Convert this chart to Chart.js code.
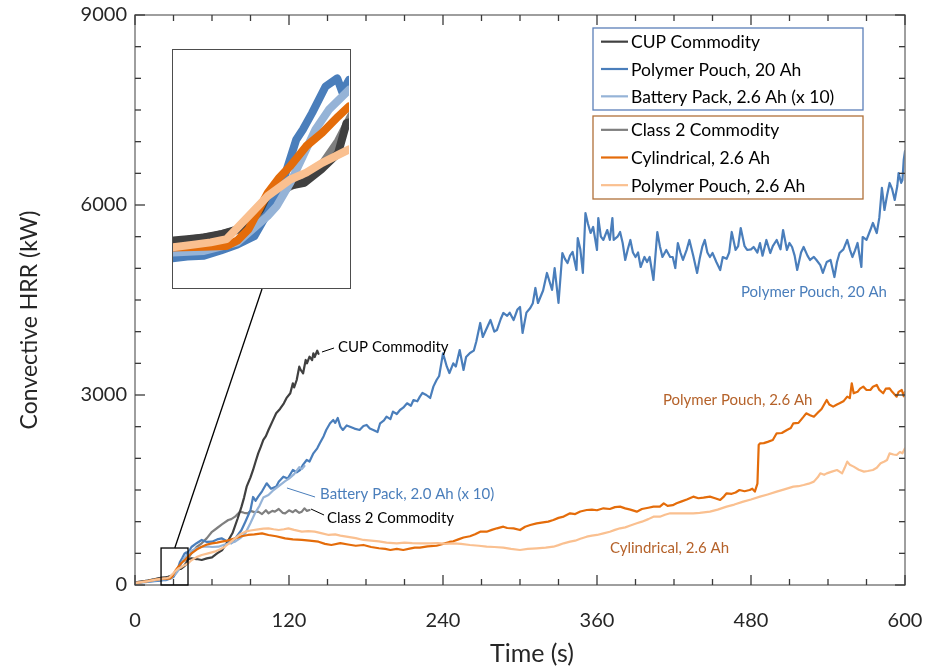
<!DOCTYPE html>
<html>
<head>
<meta charset="utf-8">
<script src="https://cdn.jsdelivr.net/npm/chart.js@4.4.1/dist/chart.umd.min.js"></script>
<style>
  html, body { margin: 0; padding: 0; background: #fff; }
  #wrap { position: relative; width: 925px; height: 671px; }
  #inset { position: absolute; left: 172px; top: 49px; width: 179px; height: 240px;
           box-sizing: border-box; border: 1.5px solid #4d4d4d; background: #fff; }
  #inset canvas { display: block; }
</style>
</head>
<body>
<div id="wrap">
  <canvas id="main" width="925" height="671"></canvas>
  <div id="inset"><canvas id="zoom" width="176" height="237"></canvas></div>
</div>
<script>
// series values (time in s, convective HRR in kW)
const cupT = [0,5,10,15,20,22,24,26,28,30,32,34,36,38,40,41,44,48,52,56,60,64,68,72,76,80,83,85,87,90,92,94,96,98,100,102,104,107,110,113,116,118,121,123,124,126,128,129,131,133,134,136,138,139,140,142,143];
const cupV = [40,55,70,90,114,118,122,130,142,175,215,249,257,290,330,404,420,410,395,420,437,500,553,680,820,1050,1237,1380,1553,1700,1816,1950,2079,2180,2290,2350,2447,2580,2711,2780,2869,2950,3027,3185,3120,3237,3447,3400,3343,3553,3500,3605,3550,3658,3600,3700,3650];

const pp20T = [0,5,10,15,20,22,24,26,28,30,31.6,33.5,35,35.8,36.9,38.5,39.9,40.5,41.3,44,48,52,56,60,64,67.5,71,75,79,83,86,90,92,94,96,99,102.6,106,110,112,115.6,119,123,126,128.6,131,133.8,136,139,142,144,147,149,152,154.5,156,158,160,162,165,167.5,171,175,178,180.5,183,185.7,189,191,194,196,199,201,204,206.5,209,212,215,217,220,222,224,227,230,232.5,235,237,240,243,245,248,250,253,256,258,261,264,266,269,271,274,277,280,282,285,287,290,292,295,298,300,302,305,308,310,312,314,318,321,325,327,330,333,335,337,339,341,344,345,347,349,351,353,355,357,360,361,363,365,368,370,372,373,376,378,380,382,384,386,388,390,392,394,397,399,401,404,407,409,411,414,417,419,421,423,425,427,430,432,435,438,440,442,444,446,448,450,453,456,458,461,463,465,468,470,472,475,477,480,482,485,487,489,492,495,497,500,503,505,508,510,512,514,516,519,521,524,526,529,531,534,536,539,542,545,547,549,552,555,557,559,561,563,566,567,570,573,575,578,580,582,584,586,588,590,592,594,595,597,598,599,600];
const pp20V = [30,40,50,60,70,75,77,90,105,125,183,265,363,388,429,494,514,480,510,600,660,711,680,684,720,737,700,658,760,868,1000,1184,1390,1330,1395,1480,1606,1520,1553,1632,1711,1680,1816,1780,1816,1900,1974,1950,2079,2158,2237,2350,2448,2553,2605,2560,2637,2500,2448,2520,2500,2470,2448,2510,2527,2470,2448,2416,2553,2600,2658,2620,2737,2700,2763,2800,2869,2830,2921,2900,2974,3032,3000,2953,3132,3237,3300,3658,3447,3347,3500,3450,3710,3395,3600,3663,3700,3850,4137,3916,4050,4184,4000,4026,4200,4295,4250,4300,4184,4350,4390,3979,4300,4374,4450,4690,4453,4650,4927,4658,5005,4453,5242,5150,5084,5200,5258,4974,5479,5300,4927,5874,5700,5558,5653,5290,5795,5500,5448,5605,5450,5795,5448,5500,5574,5400,5132,5300,5448,5250,5179,5250,5021,5179,5100,5179,4816,5574,5350,5179,5290,5179,5179,5005,5400,5250,5132,5300,5448,5200,4927,5150,5337,5448,5250,5179,5242,5100,4974,5179,5150,5250,5574,5290,5350,5637,5350,5290,5300,5337,5250,5400,5200,5448,5242,5350,5448,5300,5605,5290,5400,5337,5200,4974,5250,5337,5200,5132,5180,5132,5050,4927,5100,5132,4863,5100,5242,5300,5448,5300,5179,5280,5400,5021,5495,5450,5605,5716,5558,5800,6269,5921,6150,6348,6250,6079,6300,6505,6350,6395,6711,6850];

const packT = [0,5,10,15,20,24,28,31.6,32.7,34.3,35.8,37.3,38.9,41.3,44,48,52,56,60,65,70,74,78,82,86,90,93.5,97,100,104,108,112,117,120,124,128,130,132];
const packV = [35,45,55,70,85,89,110,175,200,257,322,388,437,486,540,580,600,610,600,605,640,660,684,740,816,980,1132,1250,1380,1420,1500,1560,1640,1680,1750,1860,1830,1880];

const cls2T = [0,5,10,15,20,25,28,30,32,34,36,38,40,42,45,48,52,56,60,64,68,72.7,75,78,80,82,85,88,90,93,96,99,102,104,107,109,112,115,117,120,123,125,128,130,132,134,136];
const cls2V = [40,55,70,90,110,125,140,170,205,245,265,300,360,440,530,600,658,740,840,900,960,1026,1040,1079,1120,1158,1140,1132,1170,1150,1158,1120,1180,1132,1170,1158,1200,1140,1132,1180,1150,1184,1140,1158,1211,1170,1184];

const cylT = [0,5,10,15,20,24,26.7,28,29.3,31.6,33,34.3,36.2,38.1,40,41.3,44,48,52,56,60,64,67.5,72,78,83,88,93,99,104,110,117,123,130,136,143,148,153,160,166,172,178,184,190,195,199,204,209,214,218,222,228,235,240,245,248,252,256,261,265,269,274,278,282,287,290,295,300,304,308,313,318,322,326,330,334,339,343,347,352,356,360,365,370,374,378,382,386,391,395,400,404,409,412,415,419,422,426,430,435,439,443,448,452,456,459,461,465,468,471,475,479,481,483,485,486,487,490,493,497,500,504,508,511,513,517,521,523,526,529,532,535,539,541,544,547,549,552,555,557,558.5,560,563,565,567.5,570,573,575,578,580,583,585,588,590,593.5,595,597.5,599,600];
const cylV = [30,45,60,80,97,99,101,115,142,232,270,298,347,380,420,445,500,560,605,640,658,670,684,700,737,770,790,800,816,790,770,737,720,711,700,684,650,632,660,640,620,632,600,580,570,553,570,553,575,590,590,610,620,650,680,690,720,750,770,800,842,842,870,895,921,900,895,868,920,947,974,990,1000,1026,1060,1080,1132,1120,1160,1184,1190,1180,1211,1200,1230,1237,1210,1190,1158,1200,1220,1237,1237,1290,1250,1260,1290,1320,1350,1395,1370,1380,1395,1370,1342,1400,1448,1440,1460,1500,1480,1500,1520,1474,1600,2211,2237,2240,2260,2290,2395,2400,2448,2480,2553,2560,2658,2711,2680,2658,2720,2780,2921,2850,2816,2850,2869,2900,2974,2950,3185,3027,3050,3100,3132,3080,3079,3130,3158,3080,3027,3100,3106,3050,2974,3050,3079,2980,3050];

const pp26T = [0,5,10,15,20,23,24.8,26.7,29.7,31.6,34.3,36.2,38.1,41.3,44,48,52,57,62,66,70,74,78,82,86,90,96,100,104,108,112,116,119.5,124,130,135,140,145,151,156,160,166,172,178,184,190,196,204,210,216,222,230,236,242,248,254,261,268,274,280,287,293,300,306,313,320,326,330,334,339,343,347,352,356,360,365,370,374,378,382,386,391,395,400,404,409,413,417,422,428,435,440,448,454,461,467,474,480,487,493,500,506,513,517,521,525,529,532,534,537,539,543,547,549,551,553,555,557,560,564,568,571,575,578,581,584,586,588,591,593.5,596,598,600];
const pp26V = [30,45,60,80,97,105,110,118,183,224,265,282,306,339,390,440,474,500,526,560,605,670,737,800,842,860,879,890,895,880,868,880,895,870,842,850,842,820,790,800,780,760,740,711,700,690,670,658,670,660,658,658,660,650,658,650,632,620,605,600,590,570,553,570,579,590,605,630,658,684,700,730,763,780,790,816,840,870,895,910,940,974,1000,1040,1079,1079,1110,1132,1132,1130,1132,1140,1158,1190,1237,1270,1316,1350,1395,1430,1474,1510,1553,1560,1579,1600,1632,1700,1763,1740,1763,1790,1816,1790,1763,1850,1948,1900,1869,1820,1790,1800,1816,1850,1921,1950,1974,2079,2060,2053,2100,2080,2158];

const seriesNames = ['CUP Commodity', 'Polymer Pouch, 20 Ah', 'Battery Pack, 2.6 Ah (x 10)',
                     'Class 2 Commodity', 'Cylindrical, 2.6 Ah', 'Polymer Pouch, 2.6 Ah'];
const seriesTimes = [cupT, pp20T, packT, cls2T, cylT, pp26T];
const seriesValues = [cupV, pp20V, packV, cls2V, cylV, pp26V];
const seriesColors = ['#404040', '#4a7ebb', '#95b3d7', '#7f7f7f', '#e46c0a', '#fac090'];

const xTicks = [0, 120, 240, 360, 480, 600];
const yTicks = [0, 3000, 6000, 9000];
// region blown up in the inset
const zoomT = [20.3, 41.3];
const zoomV = [0, 584];

const annotations = [
  { text: 'CUP Commodity', t: 158.2, v: 3758, color: '#000', lead: [145.7, 3679, 155.1, 3742], leadColor: '#000' },
  { text: 'Battery Pack, 2.0 Ah (x 10)', t: 144.2, v: 1437, color: '#4a7ebb', lead: [118.4, 1532, 140.3, 1389], leadColor: '#4a7ebb' },
  { text: 'Class 2 Commodity', t: 149.6, v: 1058, color: '#000', lead: [137.1, 1200, 147.3, 1105], leadColor: '#000' },
  { text: 'Polymer Pouch, 20 Ah', t: 472.2, v: 4626, color: '#4a7ebb' },
  { text: 'Polymer Pouch, 2.6 Ah', t: 411.4, v: 2921, color: '#b5622a' },
  { text: 'Cylindrical, 2.6 Ah', t: 370.1, v: 584, color: '#b5622a' }
];

const FONT = 'Lato, "Liberation Sans", sans-serif';

function toPoints(ts, vs) {
  return ts.map((t, i) => ({ x: t, y: vs[i] }));
}

function makeDatasets(width) {
  // lower order is drawn on top
  return seriesNames.map((name, i) => ({
    label: name,
    data: toPoints(seriesTimes[i], seriesValues[i]),
    borderColor: seriesColors[i],
    borderWidth: width,
    pointRadius: 0,
    tension: 0,
    fill: false,
    borderCapStyle: 'round',
    borderJoinStyle: 'round',
    order: [5, 4, 3, 6, 2, 1][i]
  }));
}

function seg(ctx, x1, y1, x2, y2) {
  ctx.beginPath();
  ctx.moveTo(x1, y1);
  ctx.lineTo(x2, y2);
  ctx.stroke();
}

const decorations = {
  id: 'decorations',
  afterDatasetsDraw(chart) {
    const { ctx, chartArea: a, scales: { x, y } } = chart;
    ctx.save();

    // frame with inward ticks
    ctx.strokeStyle = '#7f7f7f';
    ctx.lineWidth = 1.5;
    ctx.strokeRect(a.left, a.top, a.right - a.left, a.bottom - a.top);
    ctx.strokeStyle = '#3a3a3a';
    ctx.lineWidth = 1.3;
    for (let t = 0; t <= 600; t += 30) {
      const px = x.getPixelForValue(t);
      const len = t % 120 === 0 ? 10 : 6;
      seg(ctx, px, a.bottom, px, a.bottom - len);
      seg(ctx, px, a.top, px, a.top + len);
    }
    for (let v = 0; v <= 9000; v += 500) {
      const py = y.getPixelForValue(v);
      const len = v % 3000 === 0 ? 10 : 6;
      seg(ctx, a.left, py, a.left + len, py);
      seg(ctx, a.right, py, a.right - len, py);
    }

    // axis titles
    ctx.fillStyle = '#262626';
    ctx.textAlign = 'center';
    ctx.textBaseline = 'middle';
    ctx.font = '25px ' + FONT;
    ctx.fillText('Time (s)', 532, 654);
    ctx.save();
    ctx.translate(30, 320);
    ctx.rotate(-Math.PI / 2);
    ctx.font = '23px ' + FONT;
    ctx.fillText('Convective HRR (kW)', 0, 0);
    ctx.restore();

    // box marking the zoomed region + connector to the inset
    const bx1 = x.getPixelForValue(zoomT[0]), bx2 = x.getPixelForValue(zoomT[1]);
    const by1 = y.getPixelForValue(zoomV[1]), by2 = y.getPixelForValue(zoomV[0]);
    ctx.strokeStyle = '#000';
    ctx.lineWidth = 1.3;
    ctx.strokeRect(bx1, by1, bx2 - bx1, by2 - by1);
    const inset = document.getElementById('inset');
    seg(ctx, x.getPixelForValue(31), by1, inset.offsetLeft + 90, inset.offsetTop + inset.offsetHeight);

    // in-plot labels
    ctx.font = '15px ' + FONT;
    ctx.textAlign = 'left';
    annotations.forEach(an => {
      ctx.fillStyle = an.color;
      ctx.fillText(an.text, x.getPixelForValue(an.t), y.getPixelForValue(an.v));
      if (an.lead) {
        ctx.strokeStyle = an.leadColor;
        ctx.lineWidth = 1;
        seg(ctx, x.getPixelForValue(an.lead[0]), y.getPixelForValue(an.lead[1]),
                 x.getPixelForValue(an.lead[2]), y.getPixelForValue(an.lead[3]));
      }
    });

    // two framed legend groups
    const groups = [
      { items: [0, 1, 2], top: 28, bottom: 110, border: '#5b7fb8' },
      { items: [3, 4, 5], top: 116, bottom: 199, border: '#b0703a' }
    ];
    const lx = 593, lw = 270;
    ctx.font = '17.5px ' + FONT;
    groups.forEach(g => {
      ctx.fillStyle = '#fff';
      ctx.fillRect(lx, g.top, lw, g.bottom - g.top);
      ctx.strokeStyle = g.border;
      ctx.lineWidth = 1.3;
      ctx.strokeRect(lx, g.top, lw, g.bottom - g.top);
      const step = (g.bottom - g.top) / 3;
      g.items.forEach((idx, k) => {
        const cy = g.top + step * (k + 0.5);
        ctx.strokeStyle = seriesColors[idx];
        ctx.lineWidth = 2.2;
        seg(ctx, lx + 8, cy, lx + 35, cy);
        ctx.fillStyle = '#000';
        ctx.fillText(seriesNames[idx], lx + 38, cy + 1);
      });
    });

    ctx.restore();
  }
};

new Chart(document.getElementById('main'), {
  type: 'line',
  data: { datasets: makeDatasets(2.2) },
  options: {
    responsive: false,
    animation: false,
    parsing: false,
    layout: { padding: { left: 0, right: 20, top: 15, bottom: 0 } },
    plugins: { legend: { display: false }, tooltip: { enabled: false } },
    scales: {
      x: {
        type: 'linear', min: 0, max: 600,
        afterBuildTicks: s => { s.ticks = xTicks.map(v => ({ value: v })); },
        afterFit: s => { s.height = 86; s.paddingLeft = 0; s.paddingRight = 0; },
        grid: { display: false, drawTicks: false },
        border: { display: false },
        ticks: { color: '#262626', font: { family: FONT, size: 20 }, padding: 24, maxRotation: 0,
                 callback: v => String(v) }
      },
      y: {
        type: 'linear', min: 0, max: 9000,
        afterBuildTicks: s => { s.ticks = yTicks.map(v => ({ value: v })); },
        afterFit: s => { s.width = 135; s.paddingTop = 0; s.paddingBottom = 0; },
        grid: { display: false, drawTicks: false },
        border: { display: false },
        ticks: { color: '#262626', font: { family: FONT, size: 20 }, padding: 8,
                 callback: v => String(v) }
      }
    }
  },
  plugins: [decorations]
});

// inset: same data, zoomed in, thick strokes
new Chart(document.getElementById('zoom'), {
  type: 'line',
  data: { datasets: makeDatasets(8) },
  options: {
    responsive: false,
    animation: false,
    parsing: false,
    layout: { padding: 0 },
    plugins: { legend: { display: false }, tooltip: { enabled: false } },
    scales: {
      x: { type: 'linear', display: false, min: zoomT[0], max: zoomT[1] },
      y: { type: 'linear', display: false, min: zoomV[0], max: zoomV[1] }
    }
  }
});
</script>
</body>
</html>
